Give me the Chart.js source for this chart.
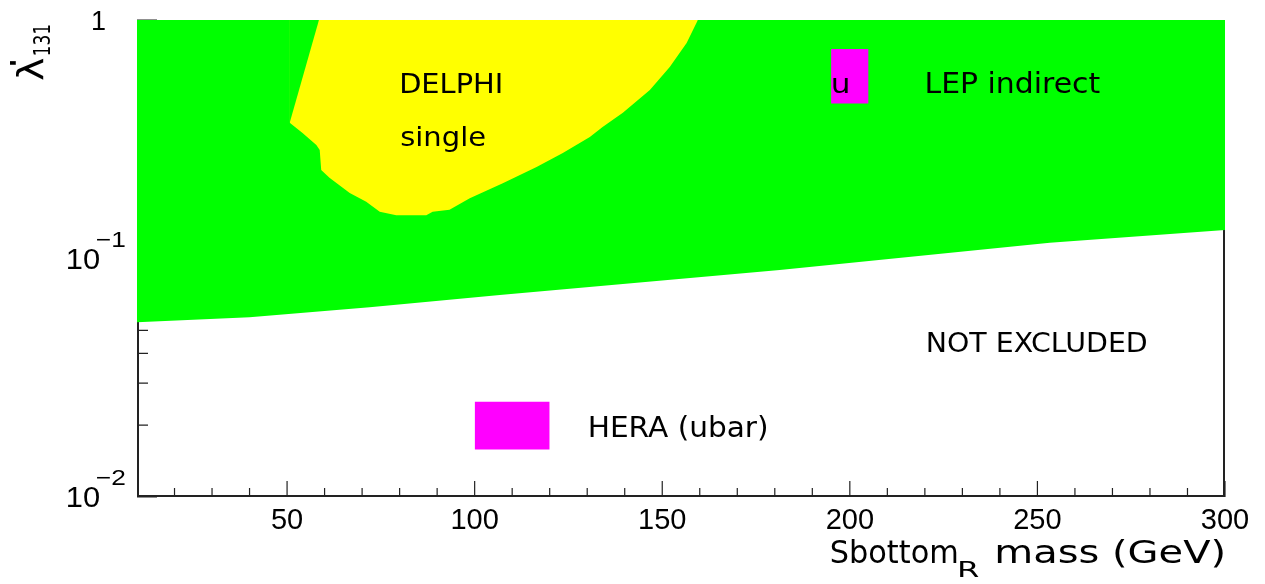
<!DOCTYPE html>
<html><head><meta charset="utf-8">
<script src="https://cdn.jsdelivr.net/npm/chart.js@4.4.1/dist/chart.umd.min.js"></script>
<style>html,body{margin:0;padding:0;background:#fff}#wrap{width:1265px;height:584px;position:relative}</style>
</head><body><div id="wrap"><canvas id="c"></canvas></div>
<script>
// LEP indirect limit: lower boundary of the excluded (green) region
const lepMass = [10, 40, 72, 106.7, 181.3, 253.3, 300];
const lepCoupling = [0.0540, 0.0567, 0.0624, 0.0703, 0.0895, 0.1165, 0.1317];
// DELPHI single production: lower boundary of the yellow region
const delphiMass = [50.7, 54.2, 57.8, 58.7, 59.1, 61.3, 66.7, 71.1, 74.7, 79.1, 87.1, 88.8, 93.3, 98.7, 107.5, 116.5, 123.5, 130.7, 134.1, 139.5, 146.7, 152, 156.5, 159.5];
const delphiCoupling = [0.371, 0.335, 0.299, 0.285, 0.235, 0.218, 0.188, 0.173, 0.157, 0.152, 0.152, 0.157, 0.160, 0.179, 0.207, 0.242, 0.277, 0.323, 0.356, 0.408, 0.509, 0.635, 0.80, 1.0];
// DELPHI region left edge
const delphiEdgeMass = [50.7, 58.5];
const delphiEdgeCoupling = [0.371, 1.0];
// HERA (ubar) box
const heraMass = [100, 120];
const heraCoupling = [0.0158, 0.0251];
// LEP indirect (u) box
const lepUMass = [195, 205];
const lepUCoupling = [0.447, 0.756];
// axis ticks
const xTickValues = [50, 100, 150, 200, 250, 300];
const xMinorTicks = [20, 30, 40, 60, 70, 80, 90, 110, 120, 130, 140, 160, 170, 180, 190, 210, 220, 230, 240, 260, 270, 280, 290];
const yTickValues = [0.01, 0.1, 1];
const yTickBase = ['10', '10', '1'];
const yTickExp = ['\u22122', '\u22121', ''];
const yMinorTicks = [0.02, 0.03, 0.04, 0.05, 0.06, 0.07, 0.08, 0.09, 0.2, 0.3, 0.4, 0.5, 0.6, 0.7, 0.8, 0.9];

const GREEN = '#00ff00', YELLOW = '#ffff00', MAGENTA = '#ff00ff';
const FAM = '"DejaVu Sans", sans-serif';
const TICKFAM = '"Liberation Sans", Arial, sans-serif';

const notes = [
  {text: 'DELPHI', mass: 80.45, coupling: 0.4957, size: 26.5, width: 100},
  {text: 'single', mass: 80.45, coupling: 0.2962, size: 26.5, width: 83.3},
  {text: 'LEP indirect', mass: 220.45, coupling: 0.4929, size: 29, width: 173.3},
  {text: 'u', mass: 195.55, coupling: 0.4929, size: 27, width: 15},
  {text: 'NOT EXCLUDED', mass: 220.8, coupling: 0.0405, size: 27, width: 219},
  {text: 'HERA (ubar)', mass: 130.67, coupling: 0.0179, size: 28.4, width: 176.7}
];

function pts(xs, ys) { return xs.map((x, i) => ({x: x, y: ys[i]})); }

function fitText(ctx, text, inkLeft, baseline, size, inkWidth, family) {
  ctx.font = size + 'px ' + family;
  ctx.textAlign = 'left';
  ctx.textBaseline = 'alphabetic';
  const m = ctx.measureText(text);
  const w = m.actualBoundingBoxRight + m.actualBoundingBoxLeft;
  const s = inkWidth / w;
  ctx.save();
  ctx.translate(inkLeft + m.actualBoundingBoxLeft * s, baseline);
  ctx.scale(s, 1);
  ctx.fillText(text, 0, 0);
  ctx.restore();
}

const framePlugin = {
  id: 'frame',
  beforeDatasetsDraw(chart) {
    const ctx = chart.ctx, a = chart.chartArea;
    const xs = chart.scales.x, ys = chart.scales.y;
    ctx.save();
    ctx.strokeStyle = '#222';
    ctx.lineWidth = 2;
    ctx.beginPath();
    ctx.moveTo(a.left + 1, a.top); ctx.lineTo(a.left + 1, a.bottom - 1);
    ctx.lineTo(a.right - 1, a.bottom - 1); ctx.lineTo(a.right - 1, a.top);
    ctx.stroke();
    ctx.lineWidth = 1.2;
    ctx.beginPath();
    xTickValues.forEach(v => { const p = xs.getPixelForValue(v); ctx.moveTo(p, a.bottom); ctx.lineTo(p, a.bottom - 16); });
    xMinorTicks.forEach(v => { const p = xs.getPixelForValue(v); ctx.moveTo(p, a.bottom); ctx.lineTo(p, a.bottom - 9); });
    yTickValues.forEach(v => { const p = ys.getPixelForValue(v); ctx.moveTo(a.left, p); ctx.lineTo(a.left + 20, p); });
    yMinorTicks.forEach(v => { const p = ys.getPixelForValue(v); ctx.moveTo(a.left, p); ctx.lineTo(a.left + 11, p); });
    ctx.stroke();
    ctx.restore();
  },
  afterDatasetsDraw(chart) {
    const ctx = chart.ctx;
    const xs = chart.scales.x, ys = chart.scales.y;
    ctx.save();
    ctx.fillStyle = '#000';
    notes.forEach(n => {
      fitText(ctx, n.text, xs.getPixelForValue(n.mass), ys.getPixelForValue(n.coupling), n.size, n.width, FAM);
    });
    // y tick labels
    yTickValues.forEach((v, i) => {
      const p = ys.getPixelForValue(v);
      if (yTickExp[i]) {
        fitText(ctx, yTickBase[i], 68, p + 10, 29, 31, TICKFAM);
        fitText(ctx, yTickExp[i], 97, p - 12, 22, 28.5, TICKFAM);
      } else {
        ctx.font = '27px ' + TICKFAM;
        ctx.textAlign = 'right';
        ctx.textBaseline = 'alphabetic';
        ctx.fillText(yTickBase[i], 106, p + 10);
      }
    });
    // x axis title
    fitText(ctx, 'Sbottom', 831.7, 563, 32, 125, FAM);
    fitText(ctx, 'R', 960, 577, 22, 19, FAM);
    fitText(ctx, 'mass (GeV)', 996.7, 563, 32, 226.3, FAM);
    // y axis title (rotated)
    ctx.save();
    ctx.translate(43, 80);
    ctx.rotate(-Math.PI / 2);
    fitText(ctx, '\u03BB', 0, 0, 36, 22, FAM);
    fitText(ctx, '\'', 15, -17, 22, 4, FAM);
    fitText(ctx, '131', 25, 7, 23, 30, FAM);
    ctx.restore();
    ctx.restore();
  }
};

const area = (data, color, fill, order) => ({
  data: data, showLine: true, fill: fill, backgroundColor: color,
  borderColor: 'rgba(0,0,0,0)', borderWidth: 0, pointRadius: 0, tension: 0, order: order
});

new Chart(document.getElementById('c'), {
  type: 'scatter',
  data: {
    datasets: [
      area(pts(lepMass, lepCoupling), GREEN, 'end', 6),
      area(pts(delphiMass, delphiCoupling), YELLOW, 'end', 5),
      area(pts(delphiEdgeMass, delphiEdgeCoupling), GREEN, 'end', 4),
      area(pts(heraMass, [heraCoupling[1], heraCoupling[1]]), MAGENTA, {value: heraCoupling[0]}, 3),
      area(pts(lepUMass, [lepUCoupling[1], lepUCoupling[1]]), MAGENTA, {value: lepUCoupling[0]}, 2)
    ]
  },
  plugins: [framePlugin],
  options: {
    responsive: true, maintainAspectRatio: false, animation: false, events: [],
    layout: {padding: {left: 0, right: 40, top: 20, bottom: 0}},
    plugins: {legend: {display: false}, tooltip: {enabled: false}},
    scales: {
      x: {
        type: 'linear', min: 10, max: 300,
        grid: {display: false, drawTicks: false}, border: {display: false},
        afterBuildTicks: s => { s.ticks = xTickValues.map(v => ({value: v})); },
        afterFit: s => { s.height = 87; },
        ticks: {color: '#000', padding: 7, font: {family: TICKFAM, size: 29}, maxRotation: 0, autoSkip: false,
          callback: v => String(v)}
      },
      y: {
        type: 'logarithmic', min: 0.01, max: 1,
        grid: {display: false, drawTicks: false}, border: {display: false},
        ticks: {display: false},
        afterFit: s => { s.width = 137; }
      }
    }
  }
});
</script></body></html>
